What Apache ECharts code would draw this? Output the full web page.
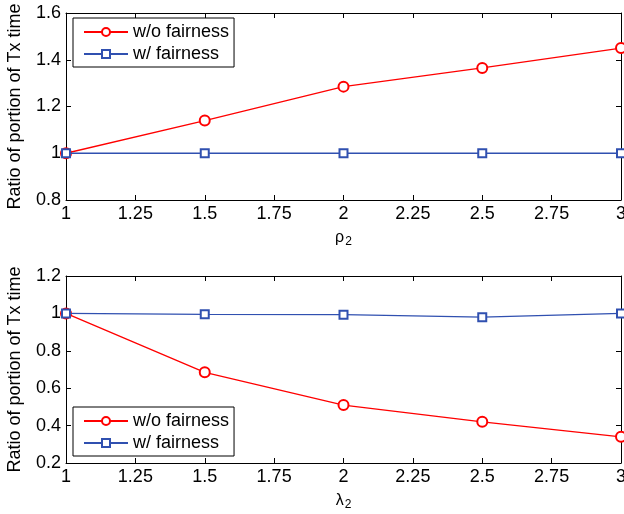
<!DOCTYPE html>
<html>
<head>
<meta charset="utf-8">
<script src="https://cdn.jsdelivr.net/npm/echarts@6/dist/echarts.min.js"></script>
<style>html,body{margin:0;padding:0;background:#fff}#c{width:624px;height:514px}</style>
</head>
<body>
<div id="c"></div>
<script>
const xVals = [1, 1.5, 2, 2.5, 3];
const topNoFair = [1.0, 1.14, 1.285, 1.365, 1.45];
const topFair = [1.0, 1.0, 1.0, 1.0, 1.0];
const botNoFair = [1.0, 0.685, 0.51, 0.42, 0.34];
const botFair = [1.0, 0.995, 0.993, 0.98, 1.0];
const seriesNames = ['w/o fairness', 'w/ fairness'];
const yTitle = 'Ratio of portion of Tx time';
const topXName = ['ρ', '2'];
const botXName = ['λ', '2'];

const FONT = 'Liberation Sans';
const RED = '#ff0000';
const BLUE = '#3050b0';

function pairs(ys) { return xVals.map((x, i) => [x, ys[i]]); }

function xAxes(gi, nameParts) {
  return [
    {
      type: 'value', gridIndex: gi, min: 1, max: 3, interval: 0.25, position: 'bottom',
      axisLine: { show: true, lineStyle: { color: '#000', width: 1 } },
      axisTick: { show: true, inside: true, length: 5, lineStyle: { color: '#000' } },
      axisLabel: { color: '#000', fontFamily: FONT, fontSize: 18, margin: 5, showMaxLabel: true, hideOverlap: false },
      splitLine: { show: false },
      name: '{a|' + nameParts[0] + '}{b|' + nameParts[1] + '}',
      nameLocation: 'middle', nameGap: 27,
      nameTextStyle: {
        rich: {
          a: { fontFamily: FONT, fontSize: 16, color: '#000' },
          b: { fontFamily: FONT, fontSize: 12, color: '#000', verticalAlign: 'bottom', padding: [9, 0, 0, 1] }
        }
      }
    },
    {
      type: 'value', gridIndex: gi, min: 1, max: 3, interval: 0.25, position: 'top',
      axisLine: { show: true, lineStyle: { color: '#000', width: 1 } },
      axisTick: { show: true, inside: true, length: 5, lineStyle: { color: '#000' } },
      axisLabel: { show: false }, splitLine: { show: false }
    }
  ];
}

function yAxes(gi, min, max) {
  return [
    {
      type: 'value', gridIndex: gi, min: min, max: max, interval: 0.2, position: 'left',
      axisLine: { show: true, lineStyle: { color: '#000', width: 1 } },
      axisTick: { show: true, inside: true, length: 5, lineStyle: { color: '#000' } },
      axisLabel: { color: '#000', fontFamily: FONT, fontSize: 18, margin: 5,
        formatter: v => (Math.abs(v - 1) < 1e-9 ? '1' : v.toFixed(1)) },
      splitLine: { show: false },
      name: yTitle, nameLocation: 'middle', nameGap: 42,
      nameTextStyle: { fontFamily: FONT, fontSize: 18, color: '#000' }
    },
    {
      type: 'value', gridIndex: gi, min: min, max: max, interval: 0.2, position: 'right',
      axisLine: { show: true, lineStyle: { color: '#000', width: 1 } },
      axisTick: { show: true, inside: true, length: 5, lineStyle: { color: '#000' } },
      axisLabel: { show: false }, splitLine: { show: false }
    }
  ];
}

function mkSeries(name, data, xi, yi, color, symbol, size) {
  return {
    name: name, type: 'line', xAxisIndex: xi, yAxisIndex: yi, data: pairs(data),
    symbol: symbol, symbolSize: size, showAllSymbol: true,
    lineStyle: { color: color, width: 1.3 },
    itemStyle: { color: color, borderColor: color, borderWidth: 1.2 },
    emphasis: { disabled: true }, animation: false, z: symbol === 'emptyRect' ? 3 : 2
  };
}

function legend(top) {
  return {
    data: seriesNames, orient: 'vertical', left: 73, top: top,
    borderColor: '#000', borderWidth: 1, padding: [4, 5, 3, 10], itemGap: 2,
    itemWidth: 44, itemHeight: 10, backgroundColor: '#fff',
    textStyle: { fontFamily: FONT, fontSize: 18, color: '#000', lineHeight: 20 },
    selectedMode: false
  };
}

const chart = echarts.init(document.getElementById('c'), null, { renderer: 'canvas' });
chart.setOption({
  animation: false,
  backgroundColor: '#fff',
  grid: [
    { left: 66, right: 3, top: 13, height: 187, containLabel: false, outerBoundsMode: 'none' },
    { left: 66, right: 3, top: 276, height: 187, containLabel: false, outerBoundsMode: 'none' }
  ],
  xAxis: [...xAxes(0, topXName), ...xAxes(1, botXName)],
  yAxis: [...yAxes(0, 0.8, 1.6), ...yAxes(1, 0.2, 1.2)],
  legend: [legend(18), legend(407)],
  series: [
    mkSeries(seriesNames[0], topNoFair, 0, 0, RED, 'emptyCircle', 10),
    mkSeries(seriesNames[1], topFair, 0, 0, BLUE, 'emptyRect', 8),
    mkSeries(seriesNames[0], botNoFair, 2, 2, RED, 'emptyCircle', 10),
    mkSeries(seriesNames[1], botFair, 2, 2, BLUE, 'emptyRect', 8)
  ]
});
</script>
</body>
</html>
